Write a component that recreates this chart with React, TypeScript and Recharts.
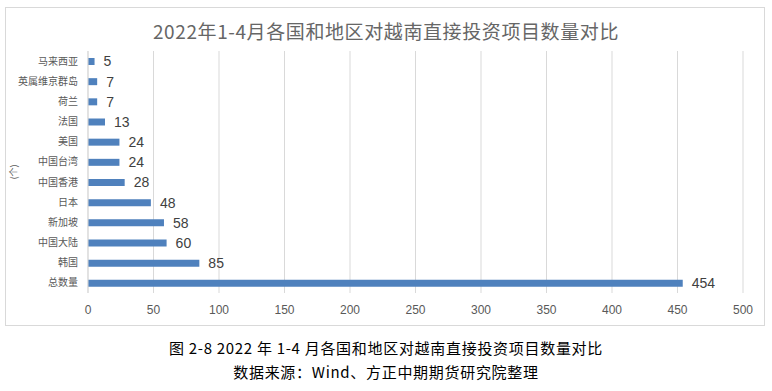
import { Bar, BarChart, CartesianGrid, LabelList, XAxis, YAxis } from 'recharts';

// Vietnam FDI project counts by source, Jan–Apr 2022 (top row first).
const regions = [
  '马来西亚',
  '英属维京群岛',
  '荷兰',
  '法国',
  '美国',
  '中国台湾',
  '中国香港',
  '日本',
  '新加坡',
  '中国大陆',
  '韩国',
  '总数量',
];
const projects = [5, 7, 7, 13, 24, 24, 28, 48, 58, 60, 85, 454];
const xTicks = [0, 50, 100, 150, 200, 250, 300, 350, 400, 450, 500];

const rows = regions.map((name, i) => ({ name, count: projects[i] }));

const CJK = '"Noto Sans CJK SC", "Noto Sans", sans-serif';

export default function App() {
  return (
    <div
      style={{
        position: 'absolute',
        left: 0,
        top: 0,
        width: 772,
        height: 391,
        background: '#fff',
        fontFamily: CJK,
      }}
    >
      <div
        style={{
          position: 'absolute',
          left: 5,
          top: 7,
          width: 758,
          height: 317,
          border: '1px solid #d9d9d9',
        }}
      />
      <div
        style={{
          position: 'absolute',
          left: 0,
          top: 18,
          width: 772,
          textAlign: 'center',
          fontSize: 19,
          lineHeight: '26px',
          letterSpacing: 0.6,
          color: '#666',
        }}
      >
        2022年1-4月各国和地区对越南直接投资项目数量对比
      </div>
      <div
        style={{
          position: 'absolute',
          left: 4,
          top: 165,
          width: 20,
          height: 14,
          fontSize: 9,
          lineHeight: '14px',
          color: '#595959',
          textAlign: 'center',
          transform: 'rotate(-90deg)',
        }}
      >
        (个)
      </div>
      <div style={{ position: 'absolute', left: 0, top: 0 }}>
        <BarChart
          width={772}
          height={330}
          data={rows}
          layout="vertical"
          margin={{ top: 51, right: 29, bottom: 7, left: 0 }}
          barSize={7}
        >
          <CartesianGrid horizontal={false} stroke="#d9d9d9" />
          <XAxis
            type="number"
            domain={[0, 500]}
            ticks={xTicks}
            axisLine={false}
            tickLine={false}
            tickMargin={6}
            height={30}
            tick={{ fontSize: 12, fill: '#595959', fontFamily: '"Liberation Sans", sans-serif' }}
          />
          <YAxis
            type="category"
            dataKey="name"
            width={88}
            axisLine={{ stroke: '#d9d9d9' }}
            tickLine={false}
            tickMargin={4}
            interval={0}
            tick={{ fontSize: 10, fill: '#595959', fontFamily: CJK }}
          />
          <Bar dataKey="count" fill="#4f81bd" isAnimationActive={false}>
            <LabelList
              dataKey="count"
              position="right"
              offset={9}
              fill="#404040"
              fontSize={14}
              fontFamily='"Liberation Sans", sans-serif'
            />
          </Bar>
        </BarChart>
      </div>
      <div
        style={{
          position: 'absolute',
          left: 0,
          top: 336,
          width: 772,
          textAlign: 'center',
          fontSize: 15,
          lineHeight: '24px',
          letterSpacing: 0.7,
          color: '#000',
        }}
      >
        <div>图 2-8 2022 年 1-4 月各国和地区对越南直接投资项目数量对比</div>
        <div>数据来源：Wind、方正中期期货研究院整理</div>
      </div>
    </div>
  );
}
